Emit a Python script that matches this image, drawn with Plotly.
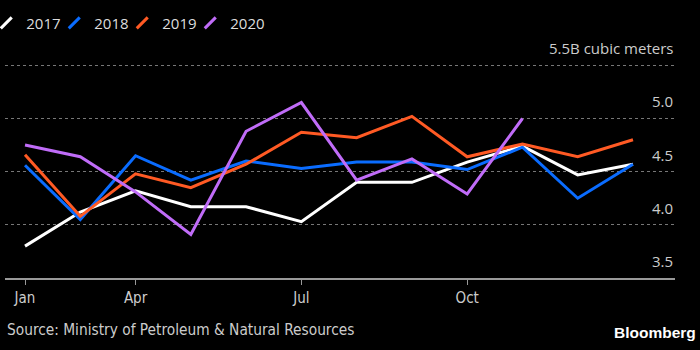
import plotly.graph_objects as go

months = ["Jan", "Feb", "Mar", "Apr", "May", "Jun", "Jul", "Aug", "Sep", "Oct", "Nov", "Dec"]
tick_labels = ["Jan", "Apr", "Jul", "Oct"]
tick_positions = [0, 2, 5, 8]

y2017 = [3.80, 4.12, 4.32, 4.17, 4.17, 4.03, 4.40, 4.40, 4.59, 4.74, 4.47, 4.57]
y2018 = [4.56, 4.05, 4.65, 4.42, 4.60, 4.53, 4.59, 4.59, 4.52, 4.73, 4.25, 4.57]
y2019 = [4.66, 4.08, 4.48, 4.35, 4.57, 4.87, 4.82, 5.02, 4.64, 4.76, 4.64, 4.80]
y2020 = [4.75, 4.64, 4.31, 3.91, 4.88, 5.15, 4.42, 4.62, 4.29, 5.00]

series = [
    ("2017", y2017, "#ffffff"),
    ("2018", y2018, "#0a6cff"),
    ("2019", y2019, "#ff5a24"),
    ("2020", y2020, "#c06cf8"),
]

ytick_vals = [3.5, 4.0, 4.5, 5.0, 5.5]
ytick_text = ["3.5", "4.0", "4.5", "5.0", "5.5B cubic meters"]

fig = go.Figure()
for name, vals, color in series:
    fig.add_trace(go.Scatter(
        x=list(range(len(vals))), y=vals, name=name, mode="lines",
        line=dict(color=color, width=3), showlegend=False, legendgroup=name,
    ))
# legend entries with slanted glyphs
for name, vals, color in series:
    fig.add_trace(go.Scatter(
        x=[None], y=[None], name=name, mode="markers", legendgroup=name,
        marker=dict(symbol="line-ne-open", size=11, color=color,
                    line=dict(width=3, color=color)),
        hoverinfo="skip",
    ))
# spacer so the last legend label is not clipped
fig.add_trace(go.Scatter(x=[None], y=[None], name=" ", mode="markers",
                         marker=dict(color="rgba(0,0,0,0)", size=1), hoverinfo="skip"))

cond = "DejaVu Sans Condensed, Liberation Sans Narrow, sans-serif"
sans = "Open Sans, sans-serif"

annotations = [
    dict(text=t, xref="paper", yref="y", x=1.0, xanchor="right", y=v, yanchor="bottom",
         yshift=5, showarrow=False, font=dict(family=sans, size=15, color="#cccccc"))
    for v, t in zip(ytick_vals, ytick_text)
]
annotations += [
    dict(text="Source: Ministry of Petroleum & Natural Resources", xref="paper", yref="paper",
         x=0.0, xanchor="left", y=-0.19, yanchor="top", showarrow=False,
         font=dict(family=cond, size=15.3, color="#cccccc")),
    dict(text="<b>Bloomberg</b>", xref="paper", yref="paper",
         x=1.035, xanchor="right", y=-0.2, yanchor="top", showarrow=False,
         font=dict(family="Liberation Sans, Arial, sans-serif", size=15.5, color="#ffffff")),
]

fig.update_layout(
    width=700, height=350,
    paper_bgcolor="black", plot_bgcolor="black",
    margin=dict(l=5, r=25, t=60, b=72, autoexpand=False),
    showlegend=True,
    legend=dict(
        orientation="h", x=-0.028, xanchor="left", y=1.245, yanchor="top",
        font=dict(family=sans, size=15, color="#dddddd"),
        bgcolor="rgba(0,0,0,0)", entrywidth=23, entrywidthmode="pixels",
        itemwidth=30,
    ),
    xaxis=dict(
        range=[-0.362, 11.76], tickvals=tick_positions, ticktext=tick_labels,
        showgrid=False, zeroline=False, showline=True, linecolor="#999999", linewidth=2,
        ticks="outside", ticklen=5, tickcolor="#999999",
        tickfont=dict(family=cond, size=15, color="#cccccc"),
    ),
    yaxis=dict(
        range=[3.5, 5.55], tickvals=ytick_vals, showticklabels=False,
        showgrid=True, gridcolor="#777777", griddash="dot", gridwidth=1,
        zeroline=False, showline=False, ticks="",
    ),
    annotations=annotations,
)

fig.write_html("out.html")
